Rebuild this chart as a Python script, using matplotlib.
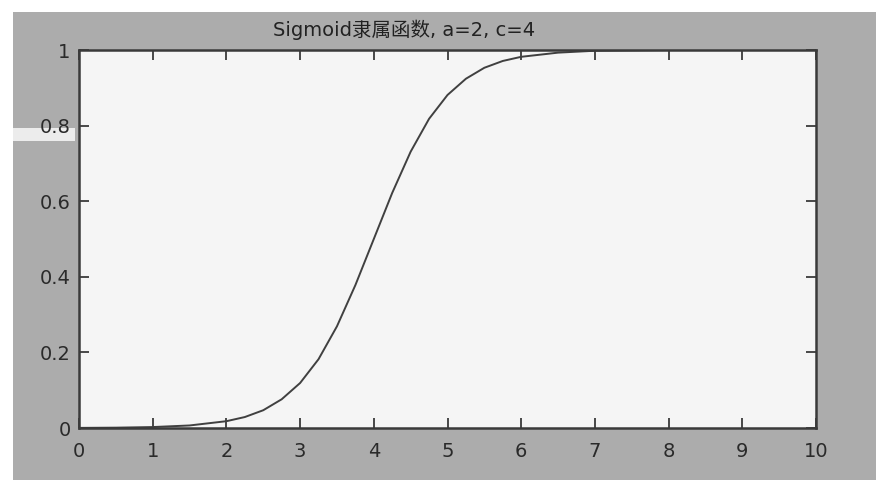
import matplotlib.pyplot as plt
from matplotlib.patches import Rectangle

plt.rcParams['font.family'] = ['DejaVu Sans', 'Noto Sans CJK SC']

# sigmoid membership curve, a=2, c=4
x_vals = [0, 0.5, 1, 1.5, 2, 2.25, 2.5, 2.75, 3, 3.25, 3.5, 3.75, 4,
          4.25, 4.5, 4.75, 5, 5.25, 5.5, 5.75, 6, 6.5, 7, 8, 9, 10]
y_vals = [0.0003, 0.0009, 0.0025, 0.0067, 0.018, 0.029, 0.047, 0.076, 0.119,
          0.182, 0.269, 0.378, 0.5, 0.622, 0.731, 0.818, 0.881, 0.924, 0.953,
          0.971, 0.982, 0.993, 0.998, 1.0, 1.0, 1.0]
x_ticks = [0, 1, 2, 3, 4, 5, 6, 7, 8, 9, 10]
y_ticks = [0, 0.2, 0.4, 0.6, 0.8, 1]
y_tick_labels = ['0', '0.2', '0.4', '0.6', '0.8', '1']
title = 'Sigmoid隶属函数, a=2, c=4'

fig = plt.figure(figsize=(8.76, 4.80), dpi=100, facecolor='white')

# grey window background with a white margin at top and left
fig.patches.append(Rectangle((13 / 876, 0), 1, 468 / 480, transform=fig.transFigure,
                             facecolor='#acacac', edgecolor='none', zorder=-10))
fig.patches.append(Rectangle((13 / 876, 339 / 480), 62 / 876, 13 / 480,
                             transform=fig.transFigure, facecolor='#ececec',
                             edgecolor='none', zorder=-9))

ax = fig.add_axes([79 / 876, 52 / 480, 737 / 876, 378 / 480])
ax.set_zorder(1)
ax.set_facecolor('#f5f5f5')
ax.plot(x_vals, y_vals, color='#404040', linewidth=1.4)

ax.set_xlim(0, 10)
ax.set_ylim(0, 1)
ax.set_xticks(x_ticks)
ax.set_yticks(y_ticks)
ax.set_yticklabels(y_tick_labels)
ax.tick_params(direction='in', length=7, width=1.3, color='#3a3a3a',
               labelsize=14, labelcolor='#2a2a2a', top=True, right=True)
ax.tick_params(axis='x', pad=10)
ax.tick_params(axis='y', pad=6)
for spine in ax.spines.values():
    spine.set_color('#3a3a3a')
    spine.set_linewidth(1.8)

ax.set_title(title, fontsize=14, color='#222222', pad=10, x=0.441)

fig.savefig('out.png', dpi=100, facecolor=fig.get_facecolor())
